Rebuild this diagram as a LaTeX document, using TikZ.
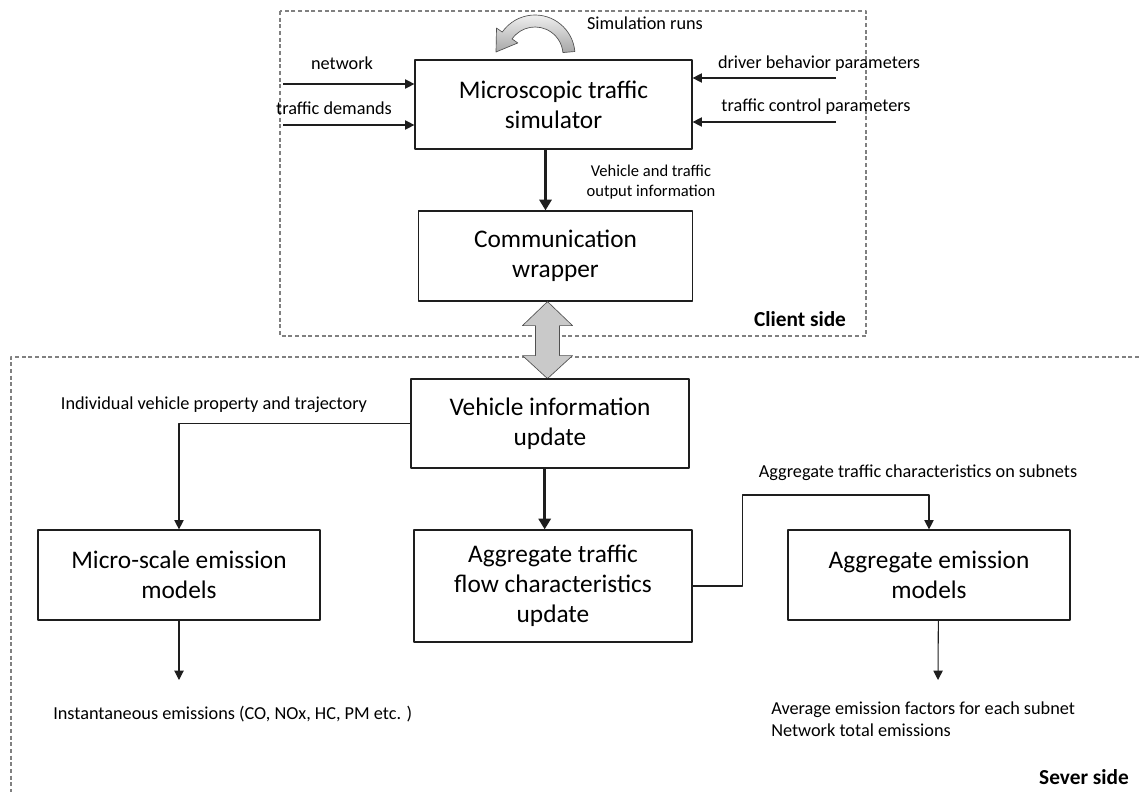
\documentclass[tikz,border=0pt]{standalone}
\usepackage{fontspec}
\setmainfont{Carlito}
\usetikzlibrary{arrows.meta}
\definecolor{frame}{HTML}{808080}
\definecolor{ink}{HTML}{1E1E1E}
\definecolor{arrowfill}{HTML}{C9C9C9}
\definecolor{arrowedge}{HTML}{505050}

\begin{document}
\begin{tikzpicture}[x=0.75pt,y=-0.75pt,line join=round,
  box/.style={draw=ink,line width=0.9pt,align=center,inner sep=0pt,
    font=\fontsize{19}{22.5}\selectfont},
  lbl/.style={inner sep=0pt,font=\fontsize{13.7}{16}\selectfont},
  note/.style={inner sep=0pt,align=center,font=\fontsize{12.4}{15}\selectfont},
  sidelbl/.style={inner sep=0pt,font=\fontsize{16}{18}\selectfont\bfseries},
  flow/.style={draw=ink,line width=0.8pt,-{Triangle[length=7pt,width=7pt]}},
  bigflow/.style={draw=ink,line width=2pt,-{Triangle[length=8pt,width=9pt]}},
  side/.style={draw=frame,line width=0.8pt,dash pattern=on 3pt off 2pt}]
  % canvas 1139 x 792 px
  \useasboundingbox (0,0) rectangle (1139,792);

  % ---- dashed frames ----
  \draw[side] (280,11) rectangle (866,336);
  \draw[side] (1139,357) -- (11,357) -- (11,792);
  \node[sidelbl] (client) at (800,319) {Client side};
  \node[sidelbl] (server) at (1084,777) {Sever side};

  % ---- client side ----
  \node[box,minimum width=207.75pt,minimum height=66.75pt] (micro) at (553.5,104.5)
    {Microscopic traffic\\simulator};
  \node[box,minimum width=206pt,minimum height=67.5pt] (comm) at (555.5,256)
    {Communication\\wrapper};

  % simulation loop arrow
  \begin{scope}[shift={(535,55)}]
    \shadedraw[top color=gray!10,bottom color=gray!70,draw=arrowedge,line width=0.5pt]
      (-5:40) arc (-5:-145:40) -- (-145:47) -- (-39,-3) -- (-145:21)
      -- (-145:28) arc (-145:-5:28) -- cycle;
  \end{scope}
  \node[lbl] (runs) at (645,23) {Simulation runs};

  % inputs
  \coordinate (netin) at (283,84);
  \coordinate (demin) at (283,125);
  \coordinate (drvin) at (836,78);
  \coordinate (ctlin) at (836,122);
  \draw[flow] (netin) -- (netin -| micro.west);
  \draw[flow] (demin) -- (demin -| micro.west);
  \draw[flow] (drvin) -- (drvin -| micro.east);
  \draw[flow] (ctlin) -- (ctlin -| micro.east);
  \node[lbl] (netlbl) at (342,63) {network};
  \node[lbl] (demlbl) at (334,108) {traffic demands};
  \node[lbl] (drvlbl) at (819,64) {driver behavior parameters};
  \node[lbl] (ctllbl) at (816,107) {traffic control parameters};

  \draw[bigflow] ([xshift=-6pt]micro.south) -- ([xshift=-6pt]micro.south |- comm.north);
  \node[note] (outlbl) at (651,182) {Vehicle and traffic\\output information};

  % ---- exchange between client and server ----
  \filldraw[fill=arrowfill,draw=arrowedge,line width=0.5pt]
    ([xshift=-6pt]comm.south) -- ++(25,24) -- ++(-13,0) -- ++(0,30) -- ++(13,0)
    -- ++(-25,23) -- ++(-25,-23) -- ++(13,0) -- ++(0,-30) -- ++(-13,0) -- cycle;

  % ---- server side ----
  \node[box,minimum width=208.5pt,minimum height=66.75pt] (vehinfo) at (550,423.5)
    {Vehicle information\\update};
  \node[box,minimum width=211.5pt,minimum height=67.5pt] (microem) at (179,575)
    {Micro-scale emission\\models};
  \node[box,minimum width=208.5pt,minimum height=84pt] (aggflow) at (553,586)
    {Aggregate traffic\\flow characteristics\\update};
  \node[box,minimum width=211.5pt,minimum height=67.5pt] (aggem) at (929,575)
    {Aggregate emission\\models};

  \draw[flow] (vehinfo.west) -| (microem.north);
  \node[lbl] (indlbl) at (214,405) {Individual vehicle property and trajectory};
  \draw[bigflow] ([xshift=-4pt]vehinfo.south) -- ([xshift=-4pt]vehinfo.south |- aggflow.north);
  \draw[flow] (aggflow.east) -- ++(50,0) -- ++(0,-91) -| (aggem.north);
  \node[lbl] (agglbl) at (918,473) {Aggregate traffic characteristics on subnets};

  % outputs
  \coordinate (instout) at (179,680);
  \coordinate (avgout) at (938,680);
  \draw[flow] (microem.south) -- (instout);
  \draw[flow] ([xshift=7pt]aggem.south) -- (avgout);
  \node[lbl,anchor=west] (instlbl) at (53,714) {Instantaneous emissions (CO, NOx, HC, PM etc. )};
  \node[lbl,anchor=north west,align=left] (avglbl) at (771,702)
    {Average emission factors for each subnet\\Network total emissions};
\end{tikzpicture}
\end{document}
